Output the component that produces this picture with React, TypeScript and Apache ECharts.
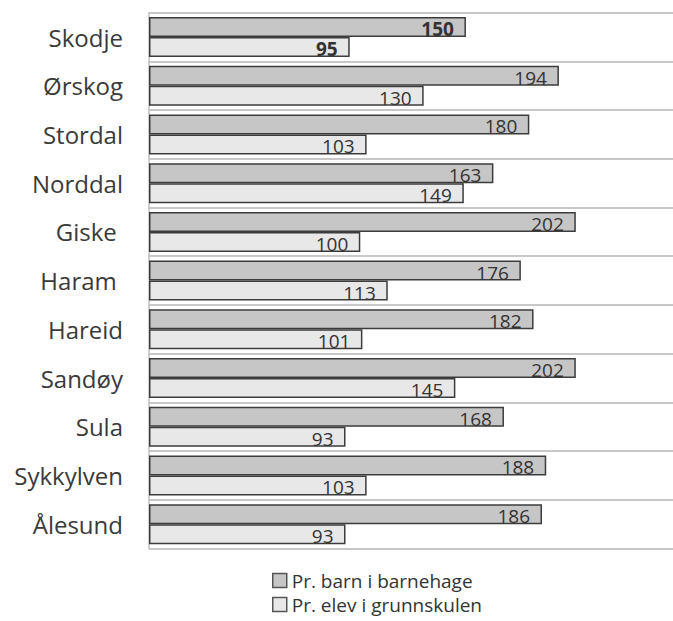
import React, { useEffect, useRef } from "react";
import * as echarts from "echarts";

const categories = [
  "Skodje",
  "Ørskog",
  "Stordal",
  "Norddal",
  "Giske ",
  "Haram ",
  "Hareid",
  "Sandøy",
  "Sula",
  "Sykkylven",
  "Ålesund",
];
const barnehage = [150, 194, 180, 163, 202, 176, 182, 202, 168, 188, 186];
const grunnskule = [95, 130, 103, 149, 100, 113, 101, 145, 93, 103, 93];
const seriesNames = ["Pr. barn i barnehage", "Pr. elev i grunnskulen"];
const boldRows = [0];

const FONT = "'Open Sans', sans-serif";

export default function App() {
  const ref = useRef<HTMLDivElement>(null);
  useEffect(() => {
    if (!ref.current) return;
    const chart = echarts.init(ref.current, undefined, { renderer: "svg" });
    const mkData = (vals: number[]) =>
      vals.map((v, i) =>
        boldRows.includes(i)
          ? { value: v, label: { fontWeight: "bold" as const } }
          : v
      );
    const colors = ["#c6c6c6", "#e8e8e8"];
    const barStyle = (c: string) => ({
      color: c,
      borderColor: "#3c3c3c",
      borderWidth: 1.5,
    });
    const label = {
      show: true,
      position: "insideRight" as const,
      distance: 12,
      fontFamily: FONT,
      fontSize: 19,
      color: "#333",
      offset: [0, 2],
    };
    chart.setOption({
      animation: false,
      textStyle: { fontFamily: FONT },
      grid: { left: 149, right: 0, top: 12.7, bottom: 72.5, containLabel: false },
      xAxis: {
        type: "value",
        min: 0,
        max: 248,
        show: false,
        splitLine: { show: false },
      },
      yAxis: {
        type: "category",
        data: categories,
        inverse: true,
        axisLine: { show: true, lineStyle: { color: "#bfbfbf", width: 1.5 } },
        axisTick: { show: false },
        axisLabel: {
          fontFamily: FONT,
          fontSize: 24,
          color: "#3a3a3a",
          margin: 26,
        },
        splitLine: {
          show: true,
          lineStyle: { color: "#c8c8c8", width: 2 },
        },
      },
      legend: {
        orient: "vertical",
        left: 272,
        top: 571,
        width: 300,
        height: 80,
        padding: 0,
        itemWidth: 14,
        itemHeight: 14,
        itemGap: 5,
        icon: "rect",
        textStyle: {
          fontFamily: FONT,
          fontSize: 19,
          color: "#333",
          lineHeight: 18,
        },
        data: seriesNames.map((n, i) => ({
          name: n,
          itemStyle: { color: colors[i], borderColor: "#555", borderWidth: 1.5 },
        })),
      },
      series: [
        {
          name: seriesNames[0],
          type: "bar",
          data: mkData(barnehage),
          barWidth: 20,
          barGap: "0%",
          itemStyle: barStyle(colors[0]),
          label,
        },
        {
          name: seriesNames[1],
          type: "bar",
          data: mkData(grunnskule),
          barWidth: 20,
          barGap: "0%",
          itemStyle: barStyle(colors[1]),
          label,
        },
      ],
    });
    return () => chart.dispose();
  }, []);
  return (
    <div
      ref={ref}
      style={{ position: "absolute", left: 0, top: 0, width: 673, height: 621 }}
    />
  );
}
